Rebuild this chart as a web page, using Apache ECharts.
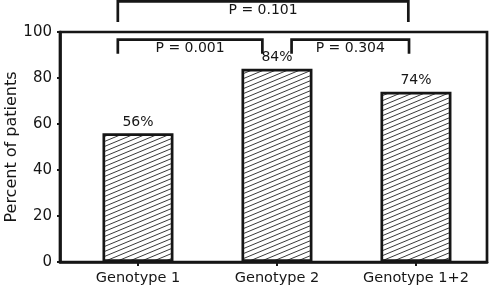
<!DOCTYPE html>
<html>
<head>
<meta charset="utf-8">
<script src="https://cdn.jsdelivr.net/npm/echarts@6/dist/echarts.min.js"></script>
<style>
  html, body { margin: 0; padding: 0; background: #fff; }
  #chart { width: 490px; height: 290px; }
</style>
</head>
<body>
<div id="chart"></div>
<script>
// data
const categories = ['Genotype 1', 'Genotype 2', 'Genotype 1+2']
const percents = [56, 84, 74]
const yTicks = [0, 20, 40, 60, 80, 100]

// significance brackets: from / to position (category units), bar top, leg end
const brackets = [
  { name: 'P = 0.001', from: -0.145, to: 0.895, top: 96.7, leg: 90.5 },
  { name: 'P = 0.304', from: 1.105, to: 1.95, top: 96.7, leg: 90.5 },
  { name: 'P = 0.101', from: -0.145, to: 1.945, top: 113.3, leg: 104.3 }
]

const ink = '#161616'
const font = 'DejaVu Sans'

// hatch fill, thin lines rising to the right
function makeHatch() {
  const w = 12
  const h = 5
  const c = document.createElement('canvas')
  c.width = w
  c.height = h
  const ctx = c.getContext('2d')
  ctx.fillStyle = '#fff'
  ctx.fillRect(0, 0, w, h)
  ctx.strokeStyle = '#3a3a3a'
  ctx.lineWidth = 1
  for (let k = -1; k <= 1; k++) {
    ctx.beginPath()
    ctx.moveTo(-w, 2 * h + k * h)
    ctx.lineTo(2 * w, -h + k * h)
    ctx.stroke()
  }
  return c
}

const chart = echarts.init(document.getElementById('chart'))

chart.setOption({
  animation: false,
  grid: {
    left: 60,
    right: 3,
    top: 32,
    bottom: 28,
    containLabel: false,
    outerBoundsMode: 'none',
    show: true,
    borderColor: ink,
    borderWidth: 2.7,
    backgroundColor: 'transparent'
  },
  xAxis: {
    type: 'value',
    min: -0.561,
    max: 2.511,
    splitLine: { show: false },
    axisLine: { show: true, onZero: false, lineStyle: { color: ink, width: 2.7 } },
    axisTick: {
      show: true,
      customValues: [0, 1, 2],
      length: 4,
      lineStyle: { color: ink, width: 2 }
    },
    axisLabel: {
      customValues: [0, 1, 2],
      formatter: v => categories[Math.round(v)],
      margin: 9,
      fontSize: 14.5,
      fontFamily: font,
      color: ink
    }
  },
  yAxis: {
    type: 'value',
    min: 0,
    max: 100,
    interval: 20,
    name: 'Percent of patients',
    nameLocation: 'middle',
    nameGap: 40,
    nameMoveOverlap: false,
    nameTextStyle: { fontSize: 16, fontFamily: font, color: ink },
    splitLine: { show: false },
    axisLine: { show: true, onZero: false, lineStyle: { color: ink, width: 2.7 } },
    axisTick: { show: true, length: 3, lineStyle: { color: ink, width: 2 } },
    axisLabel: {
      customValues: yTicks,
      margin: 8,
      fontSize: 15,
      fontFamily: font,
      color: ink
    }
  },
  series: [
    {
      type: 'bar',
      barWidth: 71,
      data: percents.map((v, i) => [i, v]),
      itemStyle: {
        color: { image: makeHatch(), repeat: 'repeat' },
        borderColor: ink,
        borderWidth: 2.7
      },
      label: {
        show: true,
        position: 'top',
        distance: 4,
        formatter: p => p.value[1] + '%',
        fontSize: 14,
        fontFamily: font,
        color: ink
      }
    },
    {
      type: 'custom',
      clip: false,
      silent: true,
      data: brackets.map(b => [b.from, b.to, b.top, b.leg]),
      renderItem(params, api) {
        const x1 = api.value(0)
        const x2 = api.value(1)
        const top = api.value(2)
        const leg = api.value(3)
        const a = api.coord([x1, leg])
        const b = api.coord([x1, top])
        const c = api.coord([x2, top])
        const d = api.coord([x2, leg])
        return {
          type: 'group',
          children: [
            {
              type: 'polyline',
              shape: { points: [a, b, c, d] },
              style: { stroke: ink, lineWidth: 2.7, fill: null, lineJoin: 'miter' }
            },
            {
              type: 'text',
              x: (b[0] + c[0]) / 2,
              y: b[1] + 9,
              style: {
                text: brackets[params.dataIndex].name,
                fontSize: 14,
                fontFamily: font,
                fill: ink,
                align: 'center',
                verticalAlign: 'middle'
              }
            }
          ]
        }
      }
    }
  ]
})
</script>
</body>
</html>
